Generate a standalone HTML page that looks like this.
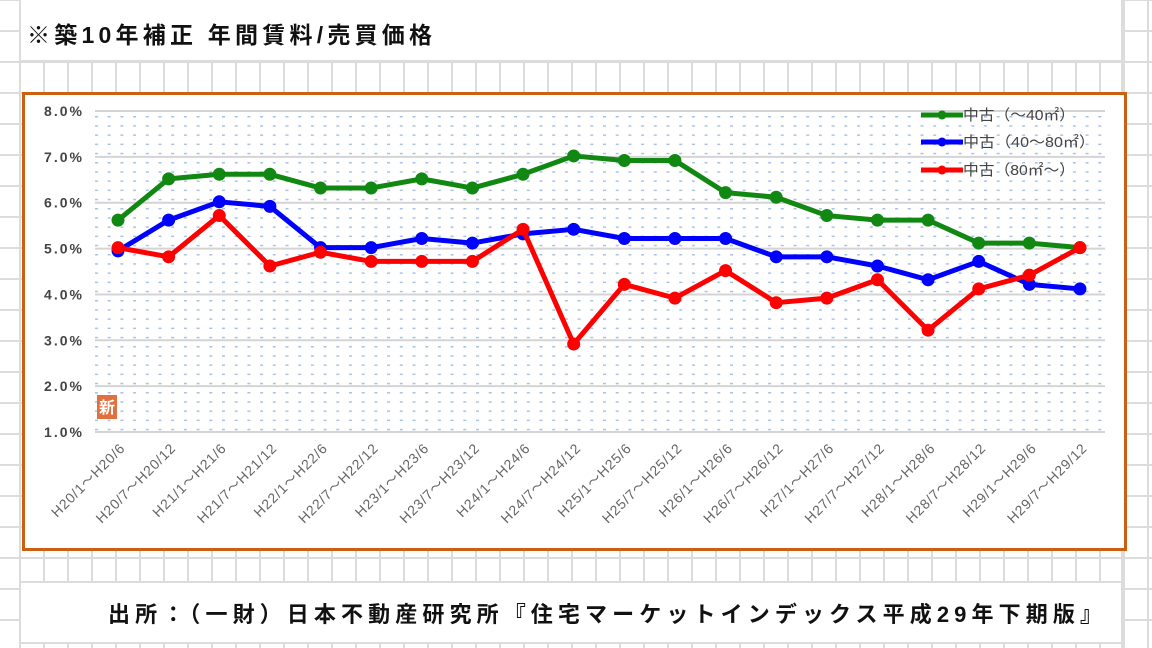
<!DOCTYPE html>
<html><head><meta charset="utf-8"><style>
html,body{margin:0;padding:0;width:1152px;height:648px;overflow:hidden;background:#fff}
svg{display:block}
</style></head><body>
<svg id="s" width="1152" height="648" xmlns="http://www.w3.org/2000/svg" font-family="'Liberation Sans','Noto Sans CJK JP',sans-serif">
<defs>
<pattern id="dots" x="95" y="116" width="12.7" height="9.2" patternUnits="userSpaceOnUse">
<rect x="0" y="0" width="3" height="1.5" fill="#a9c2e4"/>
</pattern>
</defs>
<g id="grid" stroke="#dcdcdc" stroke-width="2"></g>
<rect x="20" y="0" width="1102" height="61" fill="#fff"/>
<rect x="20" y="582" width="1102" height="61" fill="#fff"/>
<line x1="20" y1="61" x2="1122" y2="61" stroke="#dcdcdc" stroke-width="2"/>
<line x1="20" y1="582" x2="1122" y2="582" stroke="#dcdcdc" stroke-width="2"/>
<line x1="20" y1="643" x2="1122" y2="643" stroke="#dcdcdc" stroke-width="2"/>
<line x1="20" y1="0" x2="20" y2="648" stroke="#dcdcdc" stroke-width="2"/>
<line x1="1122" y1="0" x2="1122" y2="648" stroke="#dcdcdc" stroke-width="2"/>
<text x="27" y="43" font-size="23" font-weight="bold" fill="#111" textLength="405" lengthAdjust="spacing">※築10年補正 年間賃料/売買価格</text>
<text x="108" y="622" font-size="22" font-weight="bold" fill="#111" textLength="994" lengthAdjust="spacing">出所：（一財）日本不動産研究所『住宅マーケットインデックス平成29年下期版』</text>
<rect x="23.5" y="93.5" width="1102" height="456" fill="#fff" stroke="#cc6010" stroke-width="3"/>
<rect x="95" y="111" width="1010" height="321" fill="url(#dots)"/>
<g id="plot"></g>
</svg>
<script>
var ns="http://www.w3.org/2000/svg",s=document.getElementById('s'),g=document.getElementById('grid'),p=document.getElementById('plot');
function el(t,a,par,txt){var e=document.createElementNS(ns,t);for(var k in a)e.setAttribute(k,a[k]);if(txt)e.textContent=txt;(par||p).appendChild(e);return e;}
for(var x=20;x<1152;x+=24)el('line',{x1:x,y1:0,x2:x,y2:648},g);
for(var y=0;y<648;y+=31)el('line',{x1:0,y1:y,x2:1152,y2:y},g);
el('line',{x1:1122,y1:0,x2:1122,y2:648},g);
function Y(v){return 111+(8-v)*45.86;}
for(var v=1;v<=8;v++){el('line',{x1:95,y1:Y(v),x2:1105,y2:Y(v),stroke:'#d4d4d4','stroke-width':2});
el('text',{x:82,y:Y(v)+5,'font-size':14,'font-weight':'bold',fill:'#444','text-anchor':'end',textLength:38,lengthAdjust:'spacing'},null,v+'.0%');}
var cats=['H20/1～H20/6','H20/7～H20/12','H21/1～H21/6','H21/7～H21/12','H22/1～H22/6','H22/7～H22/12','H23/1～H23/6','H23/7～H23/12','H24/1～H24/6','H24/7～H24/12','H25/1～H25/6','H25/7～H25/12','H26/1～H26/6','H26/7～H26/12','H27/1～H27/6','H27/7～H27/12','H28/1～H28/6','H28/7～H28/12','H29/1～H29/6','H29/7～H29/12'];
function X(i){return 118+i*50.63;}
cats.forEach(function(c,i){el('text',{x:X(i)+8,y:449,'font-size':14,fill:'#666','text-anchor':'end','letter-spacing':'0.8',transform:'rotate(-45 '+(X(i)+8)+' 449)'},null,c);});
var S=[['#118811',[5.62,6.52,6.62,6.62,6.32,6.32,6.52,6.32,6.62,7.02,6.92,6.92,6.22,6.12,5.72,5.62,5.62,5.12,5.12,5.02]],
['#0000ff',[4.95,5.62,6.02,5.92,5.02,5.02,5.22,5.12,5.32,5.42,5.22,5.22,5.22,4.82,4.82,4.62,4.32,4.72,4.22,4.12]],
['#ff0000',[5.02,4.82,5.72,4.62,4.92,4.72,4.72,4.72,5.42,2.92,4.22,3.92,4.52,3.82,3.92,4.32,3.22,4.12,4.42,5.02]]];
S.forEach(function(sr){var d=sr[1].map(function(v,i){return X(i)+','+Y(v);}).join(' ');
el('polyline',{points:d,fill:'none',stroke:sr[0],'stroke-width':5,'stroke-linejoin':'round'});
sr[1].forEach(function(v,i){el('circle',{cx:X(i),cy:Y(v),r:6.5,fill:sr[0]});});});
var L=['中古（～40㎡）','中古（40～80㎡）','中古（80㎡～）'],LW=[112,132,112];
[0,1,2].forEach(function(i){var y=[115,142,170][i];el('rect',{x:921,y:y-2.5,width:42,height:5,fill:S[i][0]});
el('circle',{cx:942,cy:y,r:4.5,fill:S[i][0]});
el('text',{x:963,y:y+5,'font-size':15,fill:'#444',textLength:LW[i],lengthAdjust:'spacingAndGlyphs'},null,L[i]);});
el('rect',{x:97,y:395,width:20,height:24,fill:'#e07040'});
el('text',{x:107,y:413,'font-size':16,'font-weight':'bold',fill:'#fff','text-anchor':'middle'},null,'新');
</script>
</body></html>
